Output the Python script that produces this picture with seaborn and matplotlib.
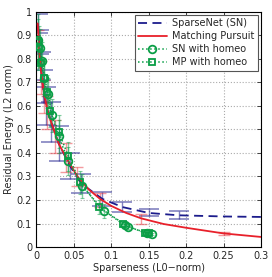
import matplotlib
matplotlib.use("Agg")
import matplotlib.pyplot as plt
import seaborn as sns
import numpy as np

# SparseNet (SN) curve and error bars
sn_x = [0.002, 0.004, 0.006, 0.009, 0.013, 0.02, 0.03, 0.045, 0.06, 0.088, 0.115, 0.15, 0.19, 0.25, 0.3]
sn_y = [0.95, 0.87, 0.77, 0.68, 0.60, 0.53, 0.44, 0.345, 0.27, 0.205, 0.17, 0.145, 0.135, 0.13, 0.128]
sn_err = [0.04, 0.05, 0.06, 0.07, 0.08, 0.085, 0.075, 0.055, 0.04, 0.03, 0.02, 0.015, 0.017, 0.0, 0.0]

# Matching Pursuit curve and error bars
mp_x = [0.002, 0.004, 0.006, 0.01, 0.015, 0.02, 0.03, 0.04, 0.055, 0.07, 0.085, 0.1, 0.12, 0.14, 0.17, 0.2, 0.25, 0.3]
mp_y = [0.95, 0.85, 0.76, 0.66, 0.58, 0.53, 0.44, 0.38, 0.30, 0.245, 0.205, 0.175, 0.145, 0.122, 0.098, 0.082, 0.058, 0.043]
mpe_x = [0.003, 0.006, 0.01, 0.015, 0.025, 0.04, 0.055, 0.085, 0.14, 0.25]
mpe_y = [0.85, 0.72, 0.64, 0.57, 0.47, 0.38, 0.30, 0.2, 0.12, 0.058]
mpe_err = [0.07, 0.07, 0.07, 0.07, 0.07, 0.06, 0.04, 0.03, 0.02, 0.006]

# SN with homeostasis (circles)
snh_x = [0.003, 0.005, 0.008, 0.011, 0.016, 0.021, 0.030, 0.043, 0.061, 0.090, 0.119, 0.123, 0.148, 0.154]
snh_y = [0.88, 0.845, 0.79, 0.72, 0.65, 0.56, 0.47, 0.365, 0.26, 0.155, 0.095, 0.085, 0.06, 0.055]
snh_err = [0.09, 0.08, 0.08, 0.07, 0.07, 0.07, 0.07, 0.06, 0.05, 0.03, 0.01, 0.01, 0.005, 0.005]

# MP with homeostasis (squares)
mph_x = [0.002, 0.004, 0.007, 0.010, 0.014, 0.019, 0.030, 0.043, 0.059, 0.084, 0.116, 0.145, 0.151]
mph_y = [0.87, 0.85, 0.78, 0.72, 0.66, 0.58, 0.49, 0.385, 0.275, 0.17, 0.097, 0.06, 0.058]
mph_err = [0.12, 0.09, 0.08, 0.08, 0.07, 0.07, 0.07, 0.06, 0.05, 0.03, 0.01, 0.005, 0.005]

xticks = [0, 0.05, 0.1, 0.15, 0.2, 0.25, 0.3]
xticklabels = ["0", "0.05", "0.1", "0.15", "0.2", "0.25", "0.3"]
yticks = [0, 0.1, 0.2, 0.3, 0.4, 0.5, 0.6, 0.7, 0.8, 0.9, 1.0]
yticklabels = ["0", "0.1", "0.2", "0.3", "0.4", "0.5", "0.6", "0.7", "0.8", "0.9", "1"]

sns.set_style("ticks")
plt.rcParams["font.family"] = ["DejaVu Sans"]
plt.rcParams["font.size"] = 7

BLUE = "#1c1c8c"
RED = "#e8202a"
GREEN = "#0a9e46"

fig = plt.figure(figsize=(2.72, 2.77), dpi=100)
ax = fig.add_axes([0.133, 0.108, 0.827, 0.85])

# error bars
n = 13
ax.errorbar(sn_x[:n], sn_y[:n], yerr=sn_err[:n], fmt="none", ecolor=BLUE, alpha=0.55,
            elinewidth=1.0, capsize=7, capthick=1.2, zorder=2)
ax.errorbar(mpe_x, mpe_y, yerr=mpe_err, fmt="none", ecolor=RED, alpha=0.45,
            elinewidth=1.0, capsize=4, capthick=1.0, zorder=2)
ax.errorbar(snh_x, snh_y, yerr=snh_err, fmt="none", ecolor=GREEN, alpha=0.5,
            elinewidth=1.0, capsize=1.5, capthick=0.8, zorder=2)
ax.errorbar(mph_x, mph_y, yerr=mph_err, fmt="none", ecolor=GREEN, alpha=0.5,
            elinewidth=1.0, capsize=1.5, capthick=0.8, zorder=2)

sns.lineplot(x=sn_x, y=sn_y, ax=ax, color=BLUE, linestyle=(0, (5, 3)), linewidth=1.3,
             label="SparseNet (SN)", sort=False, zorder=3)
sns.lineplot(x=mp_x, y=mp_y, ax=ax, color=RED, linewidth=1.3,
             label="Matching Pursuit", sort=False, zorder=3)
ax.plot(snh_x, snh_y, color=GREEN, linestyle=":", linewidth=1.1, marker="o",
        markersize=5.5, markerfacecolor="none", markeredgewidth=1.3,
        label="SN with homeo", zorder=4)
ax.plot(mph_x, mph_y, color=GREEN, linestyle=":", linewidth=1.1, marker="s",
        markersize=4.8, markerfacecolor="none", markeredgewidth=1.3,
        label="MP with homeo", zorder=4)

ax.set_xlim(0, 0.3)
ax.set_ylim(0, 1)
ax.set_xticks(xticks)
ax.set_xticklabels(xticklabels)
ax.set_yticks(yticks)
ax.set_yticklabels(yticklabels)
ax.tick_params(direction="in", length=3, width=0.6, labelsize=7, pad=3,
               top=True, right=True)
ax.grid(True, linestyle=":", color="#aaaaaa", linewidth=0.8)
for s in ax.spines.values():
    s.set_linewidth(0.8)
    s.set_color("black")
ax.set_xlabel("Sparseness (L0\u2212norm)", fontsize=7, labelpad=1)
ax.set_ylabel("Residual Energy (L2 norm)", fontsize=7, labelpad=2)

leg = ax.legend(loc="upper right", fontsize=7, frameon=True, fancybox=False,
                borderaxespad=0.35, handlelength=3.0, handletextpad=0.5,
                labelspacing=0.3, borderpad=0.35)
leg.get_frame().set_edgecolor("#555555")
leg.get_frame().set_linewidth(0.8)
leg.get_frame().set_alpha(1)

fig.savefig("out.png", dpi=100)
